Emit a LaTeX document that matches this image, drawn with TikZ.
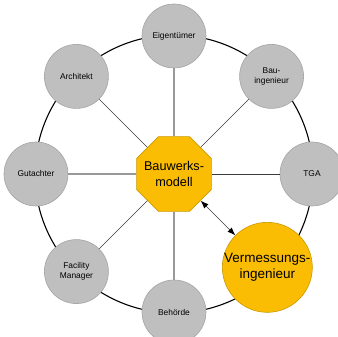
\documentclass[tikz,border=0pt]{standalone}
\usepackage{fontspec}
\setmainfont{Liberation Sans}
\usetikzlibrary{shapes.geometric,arrows.meta}
\definecolor{gelb1}{HTML}{FBBC04}
\definecolor{gelb2}{HTML}{C99A00}
\definecolor{grau1}{HTML}{BFBFBF}
\definecolor{grau2}{HTML}{A5A5A5}
\definecolor{grau3}{HTML}{999999}
\definecolor{grau4}{HTML}{3A3A3A}

\begin{document}
\begin{tikzpicture}[x=1pt, y=1pt, align=center,
  rolle/.style={circle, fill=grau1, draw=grau2, line width=0.6pt, minimum size=64pt, inner sep=0pt, font=\fontsize{8.4}{10}\selectfont},
  modellbox/.style={regular polygon, regular polygon sides=8, fill=gelb1, draw=gelb2, line width=0.6pt, minimum size=81pt, inner sep=0pt},
  modelltext/.style={inner sep=0pt, font=\fontsize{12.7}{15.5}\selectfont},
  vermkreis/.style={circle, fill=gelb1, draw=gelb2, line width=0.6pt, minimum size=90pt, inner sep=0pt},
  vermtext/.style={inner sep=0pt, font=\fontsize{13.5}{16}\selectfont},
  achse/.style={draw=grau3, line width=1.2pt},
  diag/.style={draw=grau4, line width=0.7pt},
  pfeil/.style={draw=grau4, line width=0.7pt, {Latex[length=8pt,width=6pt,black]}-{Latex[length=8pt,width=6pt,black]}}]
\clip (-174,-163) rectangle (164,174);
\coordinate (mitte) at (0,0);
\draw[line width=1.1pt] (mitte) circle (139);

\node[modellbox] (modell) at (mitte) {};
\node[modelltext] (modelltext) at (modell) {Bauwerks-\\modell};

\node[rolle] (eig) at (90:138) {Eigentümer};
\node[rolle] (bau) at (45:138) {Bau-\\ingenieur};
\node[rolle] (tga) at (0:138) {TGA};
\node[rolle] (beh) at (-90:138) {Behörde};
\node[rolle] (fm) at (-135:138) {Facility\\Manager};
\node[rolle] (gut) at (180:138) {Gutachter};
\node[rolle] (arch) at (135:138) {Architekt};

\node[vermkreis] (verm) at (-45:132) {};
\node[vermtext] (vermtext) at (verm) {Vermessungs-\\ingenieur};

\draw[achse] (modell) -- (eig);
\draw[achse] (modell) -- (gut);
\draw[achse] (modell) -- (beh);
\draw[diag] (modell) -- (tga);
\draw[diag] (modell) -- (bau);
\draw[diag] (modell) -- (arch);
\draw[diag] (modell) -- (fm);

\draw[pfeil] (modell) -- (verm);
\end{tikzpicture}
\end{document}
